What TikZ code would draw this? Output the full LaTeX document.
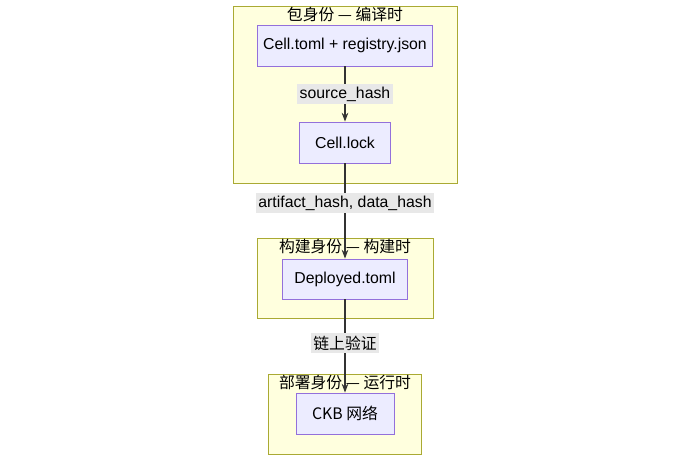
\documentclass[tikz,border=0pt]{standalone}
\usepackage{fontspec}
\setmainfont{Liberation Sans}
\newfontfamily\cjk{Noto Sans CJK SC}
\usetikzlibrary{positioning,arrows.meta}
\definecolor{clfill}{HTML}{FFFFDE}
\definecolor{cldraw}{HTML}{AAAA33}
\definecolor{ndfill}{HTML}{ECECFF}
\definecolor{nddraw}{HTML}{9370DB}
\definecolor{lbfill}{HTML}{E8E8E8}
\tikzset{
  cluster/.style={draw=cldraw, fill=clfill, line width=0.5pt},
  box/.style={draw=nddraw, fill=ndfill, line width=0.5pt, font=\fontsize{9}{11}\selectfont},
  elabel/.style={fill=lbfill, inner sep=1.5pt, font=\fontsize{9}{11}\selectfont},
  ctitle/.style={font=\fontsize{9}{11}\selectfont\cjk},
  link/.style={draw=black!80, line width=0.6pt, -{Stealth[length=5pt]}}
}
\begin{document}
\begin{tikzpicture}[x=0.02cm,y=-0.02cm]
  \useasboundingbox (0,0) rectangle (690,459);

  % clusters
  \draw[cluster] (233,6) rectangle (457,183);
  \node[ctitle] (t1) at (345,15) {包身份 — 编译时};
  \draw[cluster] (257,238) rectangle (433,318);
  \node[ctitle] (t2) at (345,247) {构建身份 — 构建时};
  \draw[cluster] (268,374) rectangle (421,454);
  \node[ctitle] (t3) at (345,383) {部署身份 — 运行时};

  % nodes
  \node[box, minimum width=171*0.02cm, minimum height=41*0.02cm] (src) at (345,45.5) {Cell.toml + registry.json};
  \node[box, minimum width=91*0.02cm, minimum height=41*0.02cm] (lock) at (345,142.5) {Cell.lock};
  \node[box, minimum width=125*0.02cm, minimum height=40*0.02cm] (dep) at (345,279) {Deployed.toml};
  \node[box, minimum width=98*0.02cm, minimum height=41*0.02cm, font=\fontsize{9}{11}\selectfont\cjk] (ckb) at (345,413.5) {CKB 网络};

  % connectors
  \draw[link] (src) -- node[elabel] {source\_hash} (lock);
  \draw[link] (lock) -- node[elabel, pos=0.42] {artifact\_hash, data\_hash} (dep);
  \draw[link] (dep) -- node[elabel, font=\fontsize{9}{11}\selectfont\cjk, pos=0.47] {链上验证} (ckb);
\end{tikzpicture}
\end{document}
